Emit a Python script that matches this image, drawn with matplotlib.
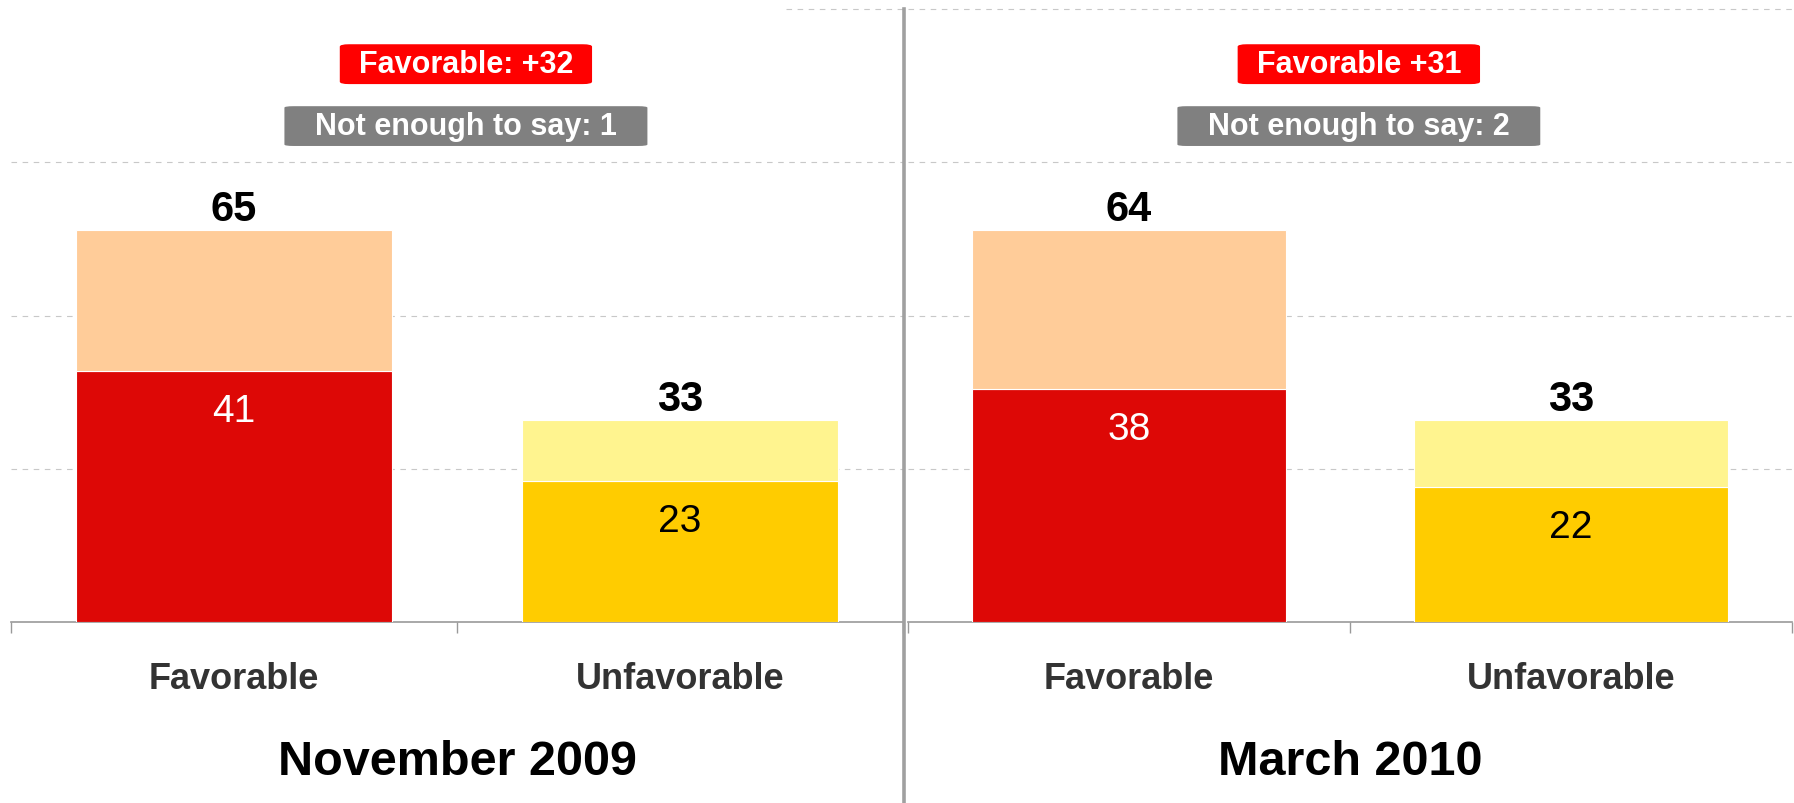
import matplotlib.pyplot as plt
from matplotlib.lines import Line2D

plt.rcParams['font.family'] = ['Liberation Sans', 'DejaVu Sans']

periods = ['November 2009', 'March 2010']
categories = ['Favorable', 'Unfavorable']
# bottom (darker) segment and top (lighter) segment of each bar
strong = [[41, 23], [38, 22]]
mild = [[23, 10], [26, 11]]
totals = [[65, 33], [64, 33]]
net_labels = ['Favorable: +32', 'Favorable +31']
not_enough = ['Not enough to say: 1', 'Not enough to say: 2']

dark_colors = ['#DD0806', '#FFCC00']
light_colors = ['#FFCC99', '#FFF48F']
inner_text = ['white', 'black']
grid_color = '#C8C8C8'
axis_color = '#999999'

W, H = 1794, 804
fig = plt.figure(figsize=(W / 100, H / 100), dpi=100)
ax1 = fig.add_axes([11 / W, 181 / H, 892 / W, 613 / H])
ax2 = fig.add_axes([908 / W, 181 / H, 884 / W, 613 / H])

for i, ax in enumerate([ax1, ax2]):
    x = [0, 1]
    tops = [s + m for s, m in zip(strong[i], mild[i])]
    ax.bar(x, strong[i], width=0.71, color=dark_colors, edgecolor='white',
           linewidth=0.8, zorder=3)
    ax.bar(x, mild[i], bottom=strong[i], width=0.71, color=light_colors,
           edgecolor='white', linewidth=0.8, zorder=3)

    ax.set_xlim(-0.5, 1.5)
    ax.set_ylim(0, 100)

    # dashed gridlines
    for y in [25, 50, 75]:
        ax.axhline(y, color=grid_color, lw=0.8, dashes=(5, 5), zorder=1)
    xmin = 0.869 if i == 0 else 0
    ax.axhline(100, xmin=xmin, color=grid_color, lw=0.8, dashes=(5, 5),
               zorder=1, clip_on=False)

    for side in ['top', 'left', 'right']:
        ax.spines[side].set_visible(False)
    ax.spines['bottom'].set_color(axis_color)
    ax.spines['bottom'].set_linewidth(1.2)
    ax.tick_params(left=False, labelleft=False)

    ax.set_xticks([-0.5, 0.5, 1.5])
    ax.set_xticklabels([])
    ax.tick_params(axis='x', which='major', direction='out', length=8,
                   width=1, color=axis_color)
    ax.set_xticks(x, categories, minor=True)
    ax.tick_params(axis='x', which='minor', length=0, pad=28, labelsize=26,
                   labelcolor='#333333')
    for lbl in ax.get_xticklabels(minor=True):
        lbl.set_fontweight('bold')

    for xi in x:
        ax.annotate(str(totals[i][xi]), (xi, tops[xi]), xytext=(0, 15),
                    textcoords='offset points', ha='center', va='center',
                    fontsize=30, fontweight='bold', color='black')
        ax.annotate(str(strong[i][xi]), (xi, strong[i][xi]), xytext=(0, -29),
                    textcoords='offset points', ha='center', va='center',
                    fontsize=28, color=inner_text[xi])

    ax.text(0.52, 91.0, net_labels[i], ha='center', va='center', fontsize=22,
            fontweight='bold', color='white',
            bbox=dict(boxstyle='round,pad=0.62,rounding_size=0.3',
                      fc='#FF0000', ec='none', mutation_aspect=0.26))
    ax.text(0.52, 80.9, not_enough[i], ha='center', va='center', fontsize=22,
            fontweight='bold', color='white',
            bbox=dict(boxstyle='round,pad=1.0,rounding_size=0.3',
                      fc='#808080', ec='none', mutation_aspect=0.16))

    ax.text(0.5, -0.228, periods[i], transform=ax.transAxes, ha='center',
            va='center', fontsize=35, fontweight='bold')

# vertical separator between the two periods
fig.add_artist(Line2D([904 / W, 904 / W], [0, 1 - 10 / H],
                      transform=fig.transFigure, color='#A0A0A0', lw=2.6))

plt.savefig('out.png', dpi=100)
